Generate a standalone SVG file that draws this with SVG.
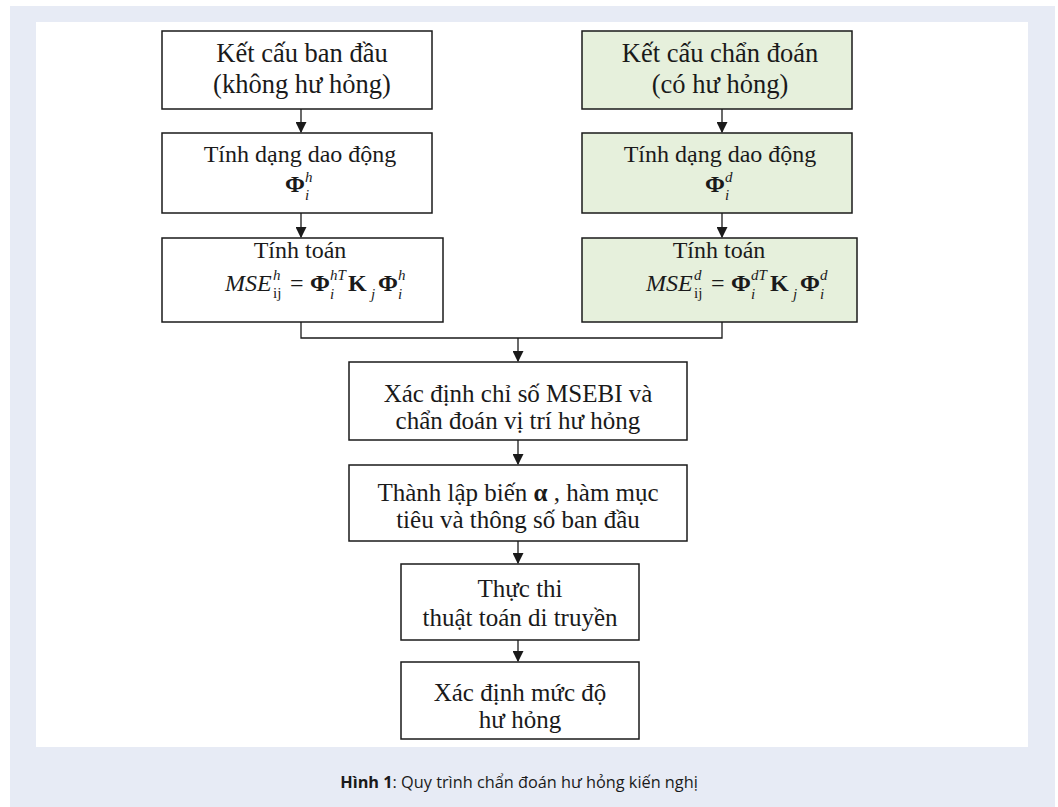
<svg xmlns="http://www.w3.org/2000/svg" width="1058" height="807" viewBox="0 0 1058 807">
<defs>
<style>
.box{fill:#ffffff;stroke:#1a1a1a;stroke-width:1.5}
.green{fill:#e6f0dc}
.t{font-family:"Liberation Serif","Times New Roman",serif;font-size:24px;fill:#1a1a1a;text-anchor:middle}
.f{font-family:"Liberation Serif","Times New Roman",serif;font-size:24px;fill:#1a1a1a}
.s{font-size:15px;font-style:italic}
.u{font-size:15px}
.big{font-size:26.5px}
.mid{font-size:25px}
.conn{fill:none;stroke:#1a1a1a;stroke-width:1.3}
.cap{font-family:"Open Sans","Noto Sans",sans-serif;font-size:16.3px;fill:#1a1a1a;text-anchor:middle}
</style>
<marker id="arr" viewBox="0 0 10 10" refX="9" refY="5" markerWidth="11" markerHeight="11" markerUnits="userSpaceOnUse" orient="auto">
<path d="M0,0 L10,5 L0,10 z" fill="#1a1a1a"/>
</marker>
</defs>
<rect x="0" y="0" width="1058" height="807" fill="#ffffff"/>
<rect x="10" y="6" width="1045" height="801" fill="#e7ebf5"/>
<rect x="36" y="22" width="992" height="725" fill="#ffffff"/>

<g id="connectors">
<line class="conn" x1="301" y1="109" x2="301" y2="132" marker-end="url(#arr)"/>
<line class="conn" x1="301" y1="213" x2="301" y2="237" marker-end="url(#arr)"/>
<line class="conn" x1="722" y1="109" x2="722" y2="132" marker-end="url(#arr)"/>
<line class="conn" x1="722" y1="213" x2="722" y2="237" marker-end="url(#arr)"/>
<polyline class="conn" points="301,322 301,338 722,338 722,322"/>
<line class="conn" x1="518" y1="338" x2="518" y2="361" marker-end="url(#arr)"/>
<line class="conn" x1="518" y1="440" x2="518" y2="464" marker-end="url(#arr)"/>
<line class="conn" x1="518" y1="541" x2="518" y2="563" marker-end="url(#arr)"/>
<line class="conn" x1="518" y1="640" x2="518" y2="661" marker-end="url(#arr)"/>
</g>

<g id="n1">
<rect class="box" x="162" y="31" width="270" height="78"/>
<text class="t big" x="302" y="62">Kết cấu ban đầu</text>
<text class="t big" x="302" y="93">(không hư hỏng)</text>
</g>
<g id="n2">
<rect class="box" x="162" y="133" width="270" height="80"/>
<text class="t" x="300" y="162">Tính dạng dao động</text>
<text class="f" x="285" y="192" font-weight="bold">Φ</text>
<text class="f s" x="305" y="182">h</text>
<text class="f s" x="305" y="200">i</text>
</g>
<g id="n3">
<rect class="box" x="162" y="238" width="281" height="84"/>
<text class="t" x="300" y="258">Tính toán</text>
<text class="f" x="225" y="291" font-style="italic">MSE</text>
<text class="f s" x="273" y="280">h</text>
<text class="f u" x="273" y="298">ij</text>
<text class="f" x="290" y="291">=</text>
<text class="f" x="310" y="291" font-weight="bold">Φ</text>
<text class="f s" x="330" y="280">hT</text>
<text class="f s" x="330" y="299">i</text>
<text class="f" x="348" y="291" font-weight="bold">K</text>
<text class="f s" x="371" y="299">j</text>
<text class="f" x="378" y="291" font-weight="bold">Φ</text>
<text class="f s" x="398" y="280">h</text>
<text class="f s" x="398" y="299">i</text>
</g>

<g id="n4">
<rect class="box green" x="582" y="31" width="270" height="78"/>
<text class="t big" x="720" y="62">Kết cấu chẩn đoán</text>
<text class="t big" x="720" y="93">(có hư hỏng)</text>
</g>
<g id="n5">
<rect class="box green" x="582" y="133" width="270" height="80"/>
<text class="t" x="720" y="162">Tính dạng dao động</text>
<text class="f" x="705" y="192" font-weight="bold">Φ</text>
<text class="f s" x="725" y="182">d</text>
<text class="f s" x="725" y="200">i</text>
</g>
<g id="n6">
<rect class="box green" x="582" y="238" width="275" height="84"/>
<text class="t" x="719" y="258">Tính toán</text>
<text class="f" x="646" y="291" font-style="italic">MSE</text>
<text class="f s" x="694" y="280">d</text>
<text class="f u" x="694" y="298">ij</text>
<text class="f" x="711" y="291">=</text>
<text class="f" x="731" y="291" font-weight="bold">Φ</text>
<text class="f s" x="751" y="280">dT</text>
<text class="f s" x="751" y="299">i</text>
<text class="f" x="770" y="291" font-weight="bold">K</text>
<text class="f s" x="793" y="299">j</text>
<text class="f" x="800" y="291" font-weight="bold">Φ</text>
<text class="f s" x="820" y="280">d</text>
<text class="f s" x="820" y="299">i</text>
</g>

<g id="n7">
<rect class="box" x="349" y="362" width="338" height="78"/>
<text class="t mid" x="518" y="402">Xác định chỉ số MSEBI và</text>
<text class="t mid" x="518" y="429">chẩn đoán vị trí hư hỏng</text>
</g>
<g id="n8">
<rect class="box" x="349" y="465" width="338" height="76"/>
<text class="t mid" x="518" y="501">Thành lập biến <tspan font-weight="bold">α</tspan> , hàm mục</text>
<text class="t mid" x="518" y="528">tiêu và thông số ban đầu</text>
</g>
<g id="n9">
<rect class="box" x="401" y="564" width="238" height="76"/>
<text class="t mid" x="520" y="597">Thực thi</text>
<text class="t mid" x="520" y="626">thuật toán di truyền</text>
</g>
<g id="n10">
<rect class="box" x="401" y="662" width="238" height="77"/>
<text class="t mid" x="520" y="701">Xác định mức độ</text>
<text class="t mid" x="520" y="728">hư hỏng</text>
</g>

<text class="cap" x="519" y="788"><tspan font-weight="bold">Hình 1</tspan>: Quy trình chẩn đoán hư hỏng kiến nghị</text>
</svg>
